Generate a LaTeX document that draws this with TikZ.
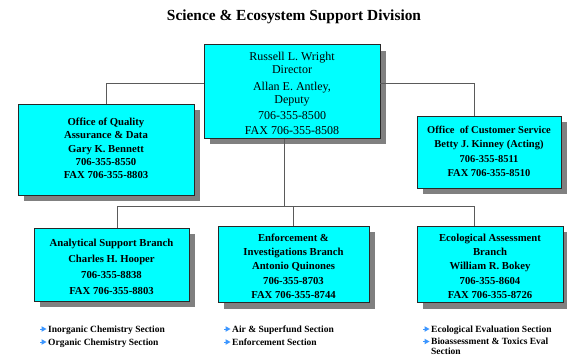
\documentclass[tikz,border=0pt]{standalone}
\usepackage{fontspec}
\setmainfont{Liberation Serif}
\usetikzlibrary{positioning}
\usetikzlibrary{shadows}

\definecolor{boxcyan}{RGB}{0,255,255}
\definecolor{boxline}{RGB}{40,40,40}
\definecolor{shadowgray}{RGB}{128,128,128}
\definecolor{linkgray}{RGB}{90,90,90}
\definecolor{markblue}{RGB}{60,150,255}

\tikzset{
  unit/.style={draw=boxline, fill=boxcyan, line width=0.8pt, inner sep=0pt,
    drop shadow={shadow xshift=6pt, shadow yshift=-6pt, fill=shadowgray, opacity=1}},
  link/.style={draw=linkgray, line width=0.8pt},
  item/.style={anchor=base west, inner sep=0pt, font=\fontsize{9.5}{11}\selectfont\bfseries},
}

% little blue arrow in front of a section line
\newcommand\listmark[1]{%
  \fill[markblue] ([xshift=-1.5pt,yshift=3pt]#1.base west) -- ++(-5pt,2.8pt) -- ++(0,-5.6pt) -- cycle;
  \draw[markblue, line width=1pt] ([xshift=-5pt,yshift=3pt]#1.base west) -- ++(-3.5pt,0);}

\begin{document}
\begin{tikzpicture}[x=1pt, y=-1pt]
    \useasboundingbox (0,0) rectangle (567,357);

    \node (title) [anchor=base, font=\fontsize{15.4}{18}\selectfont\bfseries] at (294,20)
      {Science \& Ecosystem Support Division};

    % division office
    \node (dir) [unit, minimum width=176pt, minimum height=91pt,
      font=\fontsize{12}{13}\selectfont] at (292,91.5)
      {\begin{tabular}{@{}c@{}}\rule{0pt}{16pt}Russell L. Wright\\Director\\[4pt]Allan E. Antley,\\Deputy\\[3pt]706-355-8500\\[2pt]FAX 706-355-8508\end{tabular}};

    \node (qual) [unit, minimum width=176pt, minimum height=91pt,
      font=\fontsize{10.7}{13.3}\selectfont\bfseries] at (106,149.5)
      {\begin{tabular}{@{}c@{}}Office of Quality\\Assurance \& Data\\Gary K. Bennett\\706-355-8550\\FAX 706-355-8803\end{tabular}\hspace{14pt}};

    \node (cust) [unit, minimum width=144pt, minimum height=72pt,
      font=\fontsize{10.5}{14.5}\selectfont\bfseries] at (489,152)
      {\begin{tabular}{@{}c@{}}Office\ \ of Customer Service\\Betty J. Kinney (Acting)\\706-355-8511\\FAX 706-355-8510\end{tabular}\hspace{4pt}};

    % branches
    \node (ana) [unit, minimum width=155pt, minimum height=73pt,
      font=\fontsize{10.7}{16}\selectfont\bfseries] at (111.5,264.5)
      {\begin{tabular}{@{}c@{}}\rule{0pt}{16pt}Analytical Support Branch\\Charles H. Hooper\\706-355-8838\\FAX 706-355-8803\end{tabular}};

    \node (enf) [unit, minimum width=151pt, minimum height=73pt,
      font=\fontsize{10.7}{14.2}\selectfont\bfseries] at (293.5,264.5)
      {\begin{tabular}{@{}c@{}}\rule{0pt}{15pt}Enforcement \&\\Investigations Branch\\Antonio Quinones\\706-355-8703\\FAX 706-355-8744\end{tabular}};

    \node (eco) [unit, minimum width=146pt, minimum height=73pt,
      font=\fontsize{10.7}{14.2}\selectfont\bfseries] at (490,264.5)
      {\begin{tabular}{@{}c@{}}\rule{0pt}{15pt}Ecological Assessment\\Branch\\William R. Bokey\\706-355-8604\\FAX 706-355-8726\end{tabular}\hspace{12pt}};

    % connectors
    \draw [link] ([yshift=8.5pt]dir.west) -| (qual.north);
    \draw [link] ([yshift=8.5pt]dir.east) -| ([xshift=-15pt]cust.north);

    \coordinate (bus) at (284,206);
    \coordinate (busL) at (117,206);
    \coordinate (busR) at (474,206);
    \draw [link] (dir.south -| bus) -- (bus);
    \draw [link] (busL) -- (busR);
    \draw [link] (busL) -- (busL |- ana.north);
    \draw [link] (enf.north |- bus) -- (enf.north);
    \draw [link] (busR) -- (busR |- eco.north);

    % sections
    \node (a1) [item] at (48,332) {Inorganic Chemistry Section};
    \node (a2) [item, below=13pt of a1.base west, anchor=base west] {Organic Chemistry Section};

    \node (e1) [item] at (232,332) {Air \& Superfund Section};
    \node (e2) [item, below=13pt of e1.base west, anchor=base west] {Enforcement Section};

    \node (c1) [item] at (431,332) {Ecological Evaluation Section};
    \node (c2) [item, below=12.5pt of c1.base west, anchor=base west] {Bioassessment \& Toxics Eval};
    \node (c3) [item, below=10pt of c2.base west, anchor=base west] {Section};

    \listmark{a1} \listmark{a2}
    \listmark{e1} \listmark{e2}
    \listmark{c1} \listmark{c2}
  \end{tikzpicture}
\end{document}
